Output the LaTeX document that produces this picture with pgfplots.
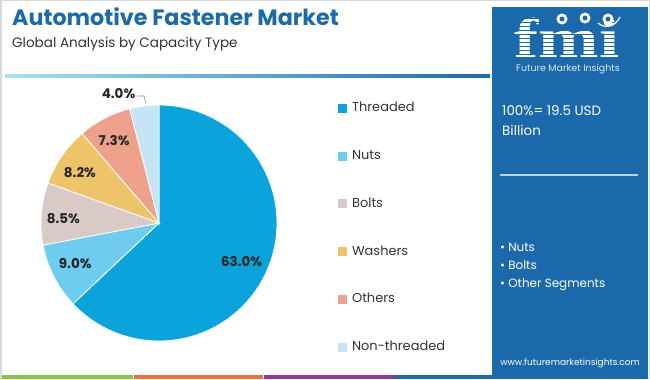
\documentclass[border=0pt]{standalone}
\usepackage{pgfplots}
\pgfplotsset{compat=1.18}
\usepackage{pgfplotstable}
\usepackage{fontspec}
\setmainfont{Poppins}
\newfontfamily\logofont{Liberation Serif}
\definecolor{cThreaded}{HTML}{0AA3DB}
\definecolor{cNuts}{HTML}{6ECCF0}
\definecolor{cBolts}{HTML}{D9CAC7}
\definecolor{cWashers}{HTML}{EEC46B}
\definecolor{cOthers}{HTML}{EDA18B}
\definecolor{cNon}{HTML}{C6E4F4}
\definecolor{cTitle}{HTML}{1C6AA8}
\definecolor{cPanel}{HTML}{1B69AA}
\definecolor{cText}{HTML}{333333}
\definecolor{cGreen}{HTML}{8BC34A}
\definecolor{cOrange}{HTML}{E8743B}
\definecolor{cPurple}{HTML}{8E3A96}

\pgfplotstableread{
name pct col
Threaded 63.0 cThreaded
Nuts 9.0 cNuts
Bolts 8.5 cBolts
Washers 8.2 cWashers
Others 7.3 cOthers
Non-threaded 4.0 cNon
}\piedata

\begin{document}
\begin{tikzpicture}[x=1bp,y=1bp]
\useasboundingbox (0,0) rectangle (650,379);
\fill[white] (0,0) rectangle (650,379);
\draw[black!15, line width=1.5bp] (0.75,0.75) rectangle (649.25,378.25);

% header
\node[anchor=base west, inner sep=0, text=cTitle, font=\bfseries\fontsize{22.3}{26}\selectfont] at (12,354) {Automotive Fastener Market};
\node[anchor=base west, inner sep=0, text=cText, font=\fontsize{13.6}{16}\selectfont] at (12,332) {Global Analysis by Capacity Type};
\shade[left color=cNuts!60, right color=cTitle] (5,302) rectangle (490,304.5);

% bottom strips
\fill[cGreen] (2,0) rectangle (133,4);
\fill[cOrange] (134,0) rectangle (263,4);
\fill[cPurple] (264,0) rectangle (395,4);
\fill[cPanel] (395,0) rectangle (648,4);

% right panel
\fill[cPanel] (492,4) rectangle (648,372);
\node[anchor=base, white, inner sep=0, text depth=0pt] at (567,322) {\logofont\bfseries\fontsize{56}{56}\selectfont\scalebox{1.3}[1]{fmi}};
\foreach \yy in {325,329,...,365} \draw[cPanel, line width=0.7bp] (505,\yy) -- (635,\yy);
\foreach \xx/\yy in {562/360,585/361,608/360} {\fill[white] (\xx,\yy) circle (5.5); \fill[cPanel] (\xx,\yy) circle (2.5);}
\draw[white, line width=1.2bp] (598,356) .. controls (605,350) and (615,352) .. (620,362);
\node[anchor=base, inner sep=0, text=white!85!cPanel, font=\fontsize{9.5}{11}\selectfont] at (568,307.5) {Future Market Insights};
\node[anchor=base west, inner sep=0, text=white, font=\fontsize{13.5}{16}\selectfont] at (502,264) {100\%= 19.5 USD};
\node[anchor=base west, inner sep=0, text=white, font=\fontsize{13.5}{16}\selectfont] at (502,244) {Billion};
\draw[white!70!cPanel, line width=1.5bp] (500,204) -- (638,204);
\node[anchor=base west, inner sep=0, text=white, font=\fontsize{12}{14}\selectfont] at (500,128) {\textbullet\ Nuts};
\node[anchor=base west, inner sep=0, text=white, font=\fontsize{12}{14}\selectfont] at (500,110) {\textbullet\ Bolts};
\node[anchor=base west, inner sep=0, text=white, font=\fontsize{12}{14}\selectfont] at (500,92) {\textbullet\ Other Segments};
\node[anchor=base, inner sep=0, text=white, font=\fontsize{9}{11}\selectfont] at (570,14) {www.futuremarketinsights.com};

\begin{axis}[
  at={(159bp,156bp)}, anchor=center,
  hide axis, scale only axis, width=236bp, height=236bp,
  xmin=-1, xmax=1, ymin=-1, ymax=1, clip=false,
  legend style={at={(axis description cs:1.258,1.013)}, anchor=north west,
    draw=none, fill=none, inner sep=0pt, row sep=35.3bp, column sep=5bp,
    font=\fontsize{13}{15}\selectfont, text=cText,
    nodes={inner sep=0pt, text height=9.5bp, text depth=3bp}},
  legend cell align=left,
  legend image code/.code={\fill[#1] (0bp,-4.5bp) rectangle (9bp,4.5bp);},
]
\def\startang{90}
\pgfplotsforeachungrouped \i in {0,...,5}{%
  \pgfplotstablegetelem{\i}{pct}\of\piedata \let\p\pgfplotsretval
  \pgfplotstablegetelem{\i}{col}\of\piedata \let\c\pgfplotsretval
  \pgfmathsetmacro{\endang}{\startang-3.6*\p}%
  \edef\tmp{\noexpand\addplot[fill=\c, draw=white, line width=0.8pt, domain=\endang:\startang, samples=90, variable=\noexpand\t, forget plot] ({cos(\noexpand\t)},{sin(\noexpand\t)}) -- (axis cs:0,0) -- cycle;}%
  \tmp
  \let\startang\endang
}
\addlegendimage{fill=cThreaded, draw=none}\addlegendentry{Threaded}
\addlegendimage{fill=cNuts, draw=none}\addlegendentry{Nuts}
\addlegendimage{fill=cBolts, draw=none}\addlegendentry{Bolts}
\addlegendimage{fill=cWashers, draw=none}\addlegendentry{Washers}
\addlegendimage{fill=cOthers, draw=none}\addlegendentry{Others}
\addlegendimage{fill=cNon, draw=none}\addlegendentry{Non-threaded}

\node[font=\bfseries\fontsize{13.5}{15}\selectfont, text=black!85] at (axis cs:0.70,-0.33) {63.0\%};
\node[font=\bfseries\fontsize{13.5}{15}\selectfont, text=black!85] at (axis cs:-0.71,-0.34) {9.0\%};
\node[font=\bfseries\fontsize{13.5}{15}\selectfont, text=black!85] at (axis cs:-0.81,0.04) {8.5\%};
\node[font=\bfseries\fontsize{13.5}{15}\selectfont, text=black!85] at (axis cs:-0.67,0.43) {8.2\%};
\node[font=\bfseries\fontsize{13.5}{15}\selectfont, text=black!85] at (axis cs:-0.38,0.70) {7.3\%};
\node[font=\bfseries\fontsize{13.5}{15}\selectfont, text=black!85, anchor=east, inner sep=0] at (axis cs:-0.20,1.10) {4.0\%};
\draw[black!45, line width=0.6pt] (axis cs:-0.186,1.076) -- (axis cs:-0.127,1.076) -- (axis cs:-0.110,1.008);
\end{axis}
\end{tikzpicture}
\end{document}
